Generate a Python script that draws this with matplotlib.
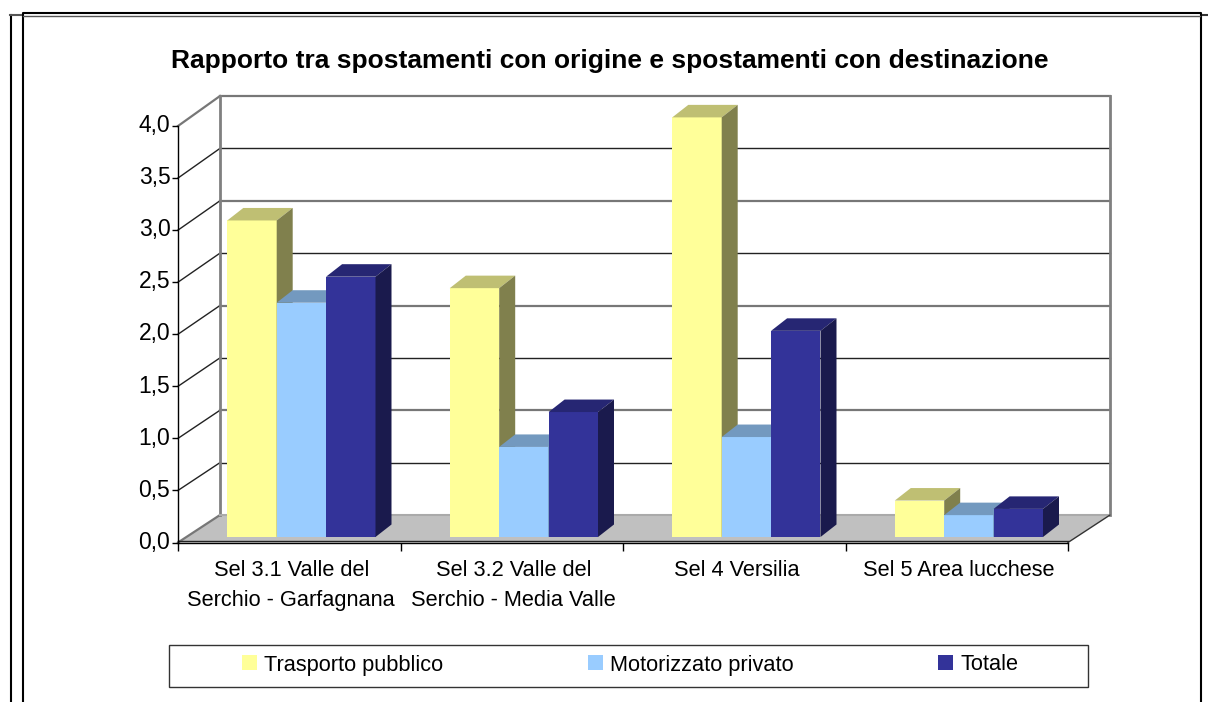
import matplotlib
matplotlib.use("Agg")
import matplotlib.pyplot as plt
from matplotlib.patches import Polygon, Rectangle, Patch
from matplotlib.transforms import ScaledTranslation

plt.rcParams['font.family'] = ['Liberation Sans', 'DejaVu Sans']

W, H = 1208, 702

categorie = ["Sel 3.1 Valle del\nSerchio - Garfagnana", "Sel 3.2 Valle del\nSerchio - Media Valle",
             "Sel 4 Versilia", "Sel 5 Area lucchese"]
serie = ["Trasporto pubblico", "Motorizzato privato", "Totale"]
trasporto = [3.04, 2.39, 4.03, 0.35]
motorizzato = [2.25, 0.865, 0.96, 0.21]
totale = [2.5, 1.2, 1.98, 0.27]
yticks = [0, 0.5, 1, 1.5, 2, 2.5, 3, 3.5, 4]
ylabels = ["0,0", "0,5", "1,0", "1,5", "2,0", "2,5", "3,0", "3,5", "4,0"]

# front, top, side of each series
colori = [("#FFFF99", "#BFBF73", "#80804D"),
          ("#99CCFF", "#7399BF", "#4D6680"),
          ("#333399", "#262673", "#1A1A4D")]
valori = [trasporto, motorizzato, totale]

fig = plt.figure(figsize=(W / 100, H / 100), dpi=100)

# overlay in pixel coords for the page frame, title and legend box
bg = fig.add_axes([0, 0, 1, 1], zorder=0)
bg.set_xlim(0, W)
bg.set_ylim(H, 0)
bg.axis("off")
bg.plot([22.5, 22.5, 1200.5, 1200.5], [702, 12.5, 12.5, 702], color="black", lw=1.5)
bg.plot([10.5, 10.5], [702, 15], color="black", lw=1.5)
bg.plot([10, 21], [15, 15], color="#555555", lw=1.5)
bg.plot([23, 1200], [15.5, 15.5], color="#555555", lw=1)
bg.plot([1203, 1208], [15, 15], color="#333333", lw=1.5)
bg.text(610, 61, "Rapporto tra spostamenti con origine e spostamenti con destinazione",
        ha="center", va="center", fontsize=19, fontweight="bold")
bg.add_patch(Rectangle((168.5, 644.5), 919, 42, fc="white", ec="#333333", lw=1))

# main axes = front plane of the 3d box
x0, x1, y0, y1 = 178, 1068, 542.5, 126
ax = fig.add_axes([x0 / W, 1 - y0 / H, (x1 - x0) / W, (y0 - y1) / H], zorder=1)
ax.patch.set_alpha(0)
ax.set_xlim(0, 4)
ax.set_ylim(0, 4)
sx = 4 / (x1 - x0)  # data per pixel
sy = 4 / (y0 - y1)

dx, dy = 42 * sx, 27.5 * sy        # depth of the box
wall = 419 / 416.5                 # back wall is a bit taller than the front axis
bdx, bdy = 16 * sx, 12.5 * sy      # depth of a bar
shiftx, shifty = 49.3 * sx, 5.5 * sy
bw = 49.4 * sx

# walls and floor
ax.add_patch(Polygon([(0, 0), (dx, dy), (4 + dx, dy), (4, 0)], fc="#C0C0C0", ec="none", clip_on=False, zorder=1))
for i, v in enumerate(yticks):
    c, lw = ("#222222", 1) if i % 2 else ("#777777", 1.6)
    if i == 0:
        continue
    vb = v * wall + dy
    ax.plot([dx, 4 + dx], [vb, vb], color=c, lw=lw, clip_on=False, zorder=1)
    ax.plot([0, dx], [v, vb], color="#777777" if v == 4 else "#222222", lw=1.6 if v == 4 else 1, clip_on=False, zorder=1)
top_b = 4 * wall + dy
ax.plot([0, dx], [0, dy], color="#777777", lw=1.6, clip_on=False, zorder=1.5)
ax.plot([dx, dx], [dy, top_b], color="#808080", lw=2, clip_on=False, zorder=1.5)
ax.plot([4 + dx, 4 + dx], [dy, top_b], color="#808080", lw=2, clip_on=False, zorder=1.5)
ax.plot([dx, 4 + dx], [dy, dy], color="#AAAAAA", lw=1.5, clip_on=False, zorder=1.5)
ax.plot([4, 4 + dx], [0, dy], color="#333333", lw=1, clip_on=False, zorder=1.5)
ax.plot([0, 4], [1.6 * sy, 1.6 * sy], color="#222222", lw=1, clip_on=False, zorder=1.5)

# bars
z = 2
for c in range(len(categorie)):
    for s in range(len(serie)):
        v = valori[s][c]
        fr, top, side = colori[s]
        left = c + shiftx + s * bw
        right = left + bw
        ax.bar(left, v, bw, bottom=shifty, align="edge", color=fr, ec="none", zorder=z, clip_on=False)
        h = v + shifty
        ax.add_patch(Polygon([(left, h), (left + bdx, h + bdy), (right + bdx, h + bdy), (right, h)],
                             fc=top, ec="none", zorder=z, clip_on=False))
        ax.add_patch(Polygon([(right, shifty), (right + bdx, shifty + bdy), (right + bdx, h + bdy), (right, h)],
                             fc=side, ec="none", zorder=z, clip_on=False))
        z += 0.01

for sp in ["top", "right"]:
    ax.spines[sp].set_visible(False)
ax.spines["left"].set_linewidth(1)
ax.spines["bottom"].set_linewidth(1)
ax.set_yticks(yticks)
ax.set_yticklabels(ylabels, fontsize=16.5)
ax.tick_params(axis="y", length=4, width=1, pad=1.5)
ax.set_xticks(range(5))
ax.set_xticklabels([])
ax.tick_params(axis="x", which="major", length=6, width=1)
ax.set_xticks([0.5 + i for i in range(4)], minor=True)
ax.set_xticklabels(categorie, minor=True, fontsize=15.7, linespacing=1.55, va="top")
ax.tick_params(axis="x", which="minor", length=0, pad=12.5)

# labels sit slightly off the ticks in the original
for t in ax.get_yticklabels():
    t.set_transform(t.get_transform() + ScaledTranslation(0, 2 / 72, fig.dpi_scale_trans))
for t in ax.get_xticklabels(minor=True):
    t.set_transform(t.get_transform() + ScaledTranslation(1.5 / 72, 0, fig.dpi_scale_trans))

fs = 15.7
px = fs * 100 / 72
leg_h = [Patch(fc=c[0], ec="none") for c in colori]
bg.legend(leg_h, serie, loc="center", bbox_to_anchor=(630 / W, 1 - 665 / H), bbox_transform=fig.transFigure,
          ncol=3, frameon=False, fontsize=fs, handlelength=15 / px, handleheight=15 / px,
          handletextpad=7 / px, columnspacing=145 / px, borderpad=0, borderaxespad=0)

fig.savefig("out.png", dpi=100)
